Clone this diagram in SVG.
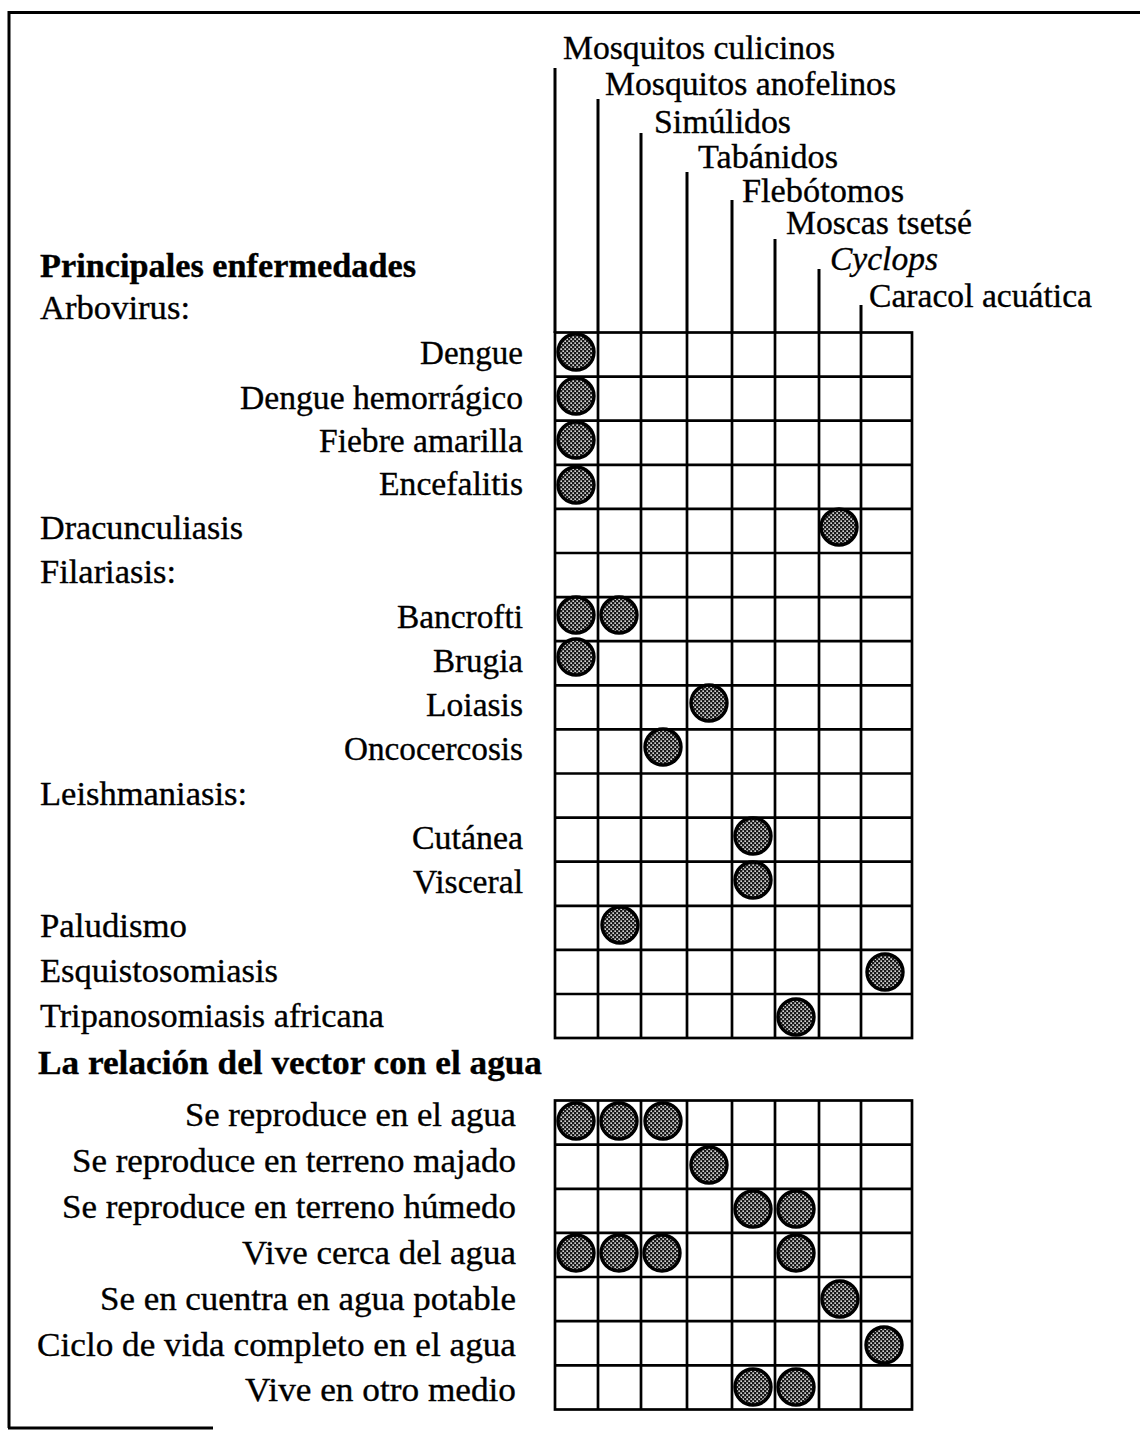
<svg xmlns="http://www.w3.org/2000/svg" width="1140" height="1431" viewBox="0 0 1140 1431">
<style>
text{font-family:"Liberation Serif","Times New Roman",serif;font-size:34px;fill:#000;stroke:#000;stroke-width:0.35}
.b{font-weight:bold}
.i{font-style:italic}
.r{text-anchor:end}
.ln{stroke:#000;stroke-width:3;fill:none}
.grid{stroke:#000;stroke-width:2.7;fill:none}
.dot{fill:url(#stip);stroke:#000;stroke-width:3.4}
</style>
<defs>
<pattern id="stip" patternUnits="userSpaceOnUse" width="4" height="4">
<rect width="4" height="4" fill="#1a1a1a"/>
<rect x="0.4" y="0.4" width="1.5" height="1.5" fill="#fff"/>
<rect x="2.4" y="2.4" width="1.5" height="1.5" fill="#fff"/>
</pattern>
</defs>
<rect width="1140" height="1431" fill="#fff"/>
<g id="frame">
<path class="ln" d="M8 12.5H1140M9 11V1428M8 1428H213"/>
</g>
<g id="column-headers">
<g id="col1"><line class="ln" x1="555" y1="68" x2="555" y2="333"/><text x="563" y="59" textLength="272" lengthAdjust="spacingAndGlyphs">Mosquitos culicinos</text></g>
<g id="col2"><line class="ln" x1="598" y1="99" x2="598" y2="333"/><text x="605" y="95" textLength="291" lengthAdjust="spacingAndGlyphs">Mosquitos anofelinos</text></g>
<g id="col3"><line class="ln" x1="641" y1="133" x2="641" y2="333"/><text x="654" y="133" textLength="137" lengthAdjust="spacingAndGlyphs">Simúlidos</text></g>
<g id="col4"><line class="ln" x1="687" y1="172" x2="687" y2="333"/><text x="698" y="168" textLength="140" lengthAdjust="spacingAndGlyphs">Tabánidos</text></g>
<g id="col5"><line class="ln" x1="732" y1="200" x2="732" y2="333"/><text x="742" y="202" textLength="162" lengthAdjust="spacingAndGlyphs">Flebótomos</text></g>
<g id="col6"><line class="ln" x1="775" y1="239" x2="775" y2="333"/><text x="786" y="234" textLength="186" lengthAdjust="spacingAndGlyphs">Moscas tsetsé</text></g>
<g id="col7"><line class="ln" x1="819" y1="269" x2="819" y2="333"/><text class="i" x="830" y="270" textLength="108" lengthAdjust="spacingAndGlyphs">Cyclops</text></g>
<g id="col8"><line class="ln" x1="861" y1="305" x2="861" y2="333"/><text x="869" y="307" textLength="223" lengthAdjust="spacingAndGlyphs">Caracol acuática</text></g>
</g>
<g id="grid1">
<rect class="grid" x="555" y="332.5" width="357" height="705.5"/>
<path class="grid" d="M598 332.5V1038M641 332.5V1038M687 332.5V1038M732 332.5V1038M775 332.5V1038M819 332.5V1038M861 332.5V1038
M555 376.6H912M555 420.7H912M555 464.8H912M555 508.9H912M555 553H912M555 597.1H912M555 641.2H912M555 685.3H912M555 729.4H912M555 773.5H912M555 817.6H912M555 861.7H912M555 905.8H912M555 949.9H912M555 994H912"/>
</g>
<g id="grid2">
<rect class="grid" x="555" y="1100.5" width="357" height="309"/>
<path class="grid" d="M598 1100.5V1409.5M641 1100.5V1409.5M687 1100.5V1409.5M732 1100.5V1409.5M775 1100.5V1409.5M819 1100.5V1409.5M861 1100.5V1409.5
M555 1144.6H912M555 1188.8H912M555 1232.9H912M555 1277H912M555 1321.2H912M555 1365.3H912"/>
</g>
<g id="labels1">
<text class="b" x="40" y="277" textLength="376" lengthAdjust="spacingAndGlyphs">Principales enfermedades</text>
<text x="40" y="319" textLength="150" lengthAdjust="spacingAndGlyphs">Arbovirus:</text>
<text class="r" x="523" y="364" textLength="103" lengthAdjust="spacingAndGlyphs">Dengue</text>
<text class="r" x="523" y="409" textLength="283" lengthAdjust="spacingAndGlyphs">Dengue hemorrágico</text>
<text class="r" x="523" y="452" textLength="204" lengthAdjust="spacingAndGlyphs">Fiebre amarilla</text>
<text class="r" x="523" y="495" textLength="144" lengthAdjust="spacingAndGlyphs">Encefalitis</text>
<text x="40" y="539" textLength="203" lengthAdjust="spacingAndGlyphs">Dracunculiasis</text>
<text x="40" y="583" textLength="136" lengthAdjust="spacingAndGlyphs">Filariasis:</text>
<text class="r" x="523" y="628" textLength="126" lengthAdjust="spacingAndGlyphs">Bancrofti</text>
<text class="r" x="523" y="672" textLength="90" lengthAdjust="spacingAndGlyphs">Brugia</text>
<text class="r" x="523" y="716" textLength="97" lengthAdjust="spacingAndGlyphs">Loiasis</text>
<text class="r" x="523" y="760" textLength="179" lengthAdjust="spacingAndGlyphs">Oncocercosis</text>
<text x="40" y="805" textLength="207" lengthAdjust="spacingAndGlyphs">Leishmaniasis:</text>
<text class="r" x="523" y="849" textLength="111" lengthAdjust="spacingAndGlyphs">Cutánea</text>
<text class="r" x="523" y="893" textLength="110" lengthAdjust="spacingAndGlyphs">Visceral</text>
<text x="40" y="937" textLength="147" lengthAdjust="spacingAndGlyphs">Paludismo</text>
<text x="40" y="982" textLength="238" lengthAdjust="spacingAndGlyphs">Esquistosomiasis</text>
<text x="40" y="1027" textLength="344" lengthAdjust="spacingAndGlyphs">Tripanosomiasis africana</text>
<text class="b" x="38" y="1074" textLength="504" lengthAdjust="spacingAndGlyphs">La relación del vector con el agua</text>
</g>
<g id="labels2">
<text class="r" x="516" y="1126" textLength="331" lengthAdjust="spacingAndGlyphs">Se reproduce en el agua</text>
<text class="r" x="516" y="1172" textLength="444" lengthAdjust="spacingAndGlyphs">Se reproduce en terreno majado</text>
<text class="r" x="516" y="1218" textLength="454" lengthAdjust="spacingAndGlyphs">Se reproduce en terreno húmedo</text>
<text class="r" x="516" y="1264" textLength="274" lengthAdjust="spacingAndGlyphs">Vive cerca del agua</text>
<text class="r" x="516" y="1310" textLength="416" lengthAdjust="spacingAndGlyphs">Se en cuentra en agua potable</text>
<text class="r" x="516" y="1356" textLength="479" lengthAdjust="spacingAndGlyphs">Ciclo de vida completo en el agua</text>
<text class="r" x="516" y="1401" textLength="271" lengthAdjust="spacingAndGlyphs">Vive en otro medio</text>
</g>
<g id="marks1">
<circle class="dot" cx="576" cy="352" r="18"/>
<circle class="dot" cx="576" cy="396" r="18"/>
<circle class="dot" cx="576" cy="440" r="18"/>
<circle class="dot" cx="576" cy="485" r="18"/>
<circle class="dot" cx="839" cy="527" r="18"/>
<circle class="dot" cx="576" cy="615" r="18"/>
<circle class="dot" cx="619" cy="615" r="18"/>
<circle class="dot" cx="576" cy="657" r="18"/>
<circle class="dot" cx="709" cy="703" r="18"/>
<circle class="dot" cx="663" cy="747" r="18"/>
<circle class="dot" cx="753" cy="836" r="18"/>
<circle class="dot" cx="753" cy="880" r="18"/>
<circle class="dot" cx="620" cy="925" r="18"/>
<circle class="dot" cx="885" cy="972" r="18"/>
<circle class="dot" cx="796" cy="1017" r="18"/>
</g>
<g id="marks2">
<circle class="dot" cx="576" cy="1121" r="18"/>
<circle class="dot" cx="619" cy="1121" r="18"/>
<circle class="dot" cx="663" cy="1121" r="18"/>
<circle class="dot" cx="709" cy="1165" r="18"/>
<circle class="dot" cx="753" cy="1209" r="18"/>
<circle class="dot" cx="796" cy="1209" r="18"/>
<circle class="dot" cx="576" cy="1253" r="18"/>
<circle class="dot" cx="619" cy="1253" r="18"/>
<circle class="dot" cx="662" cy="1253" r="18"/>
<circle class="dot" cx="796" cy="1253" r="18"/>
<circle class="dot" cx="840" cy="1299" r="18"/>
<circle class="dot" cx="884" cy="1345" r="18"/>
<circle class="dot" cx="753" cy="1387" r="18"/>
<circle class="dot" cx="796" cy="1387" r="18"/>
</g>
</svg>
